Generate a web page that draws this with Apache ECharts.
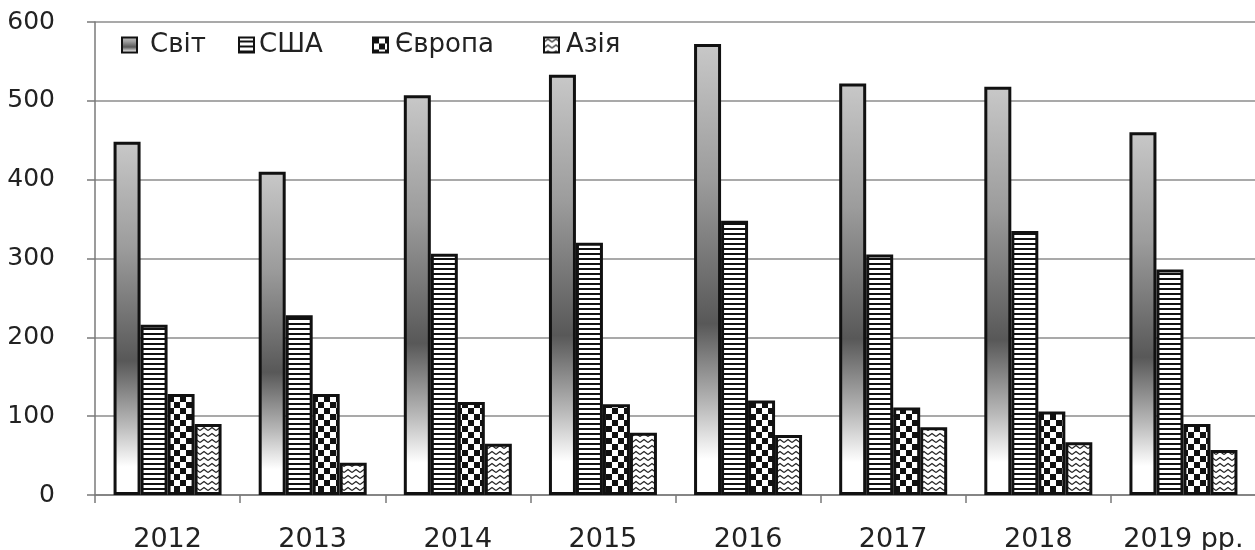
<!DOCTYPE html>
<html>
<head>
<meta charset="utf-8">
<script src="https://cdn.jsdelivr.net/npm/echarts@6/dist/echarts.min.js"></script>
<style>
  html, body { margin: 0; padding: 0; background: #fff; }
  #chart { width: 1255px; height: 550px; }
</style>
</head>
<body>
<div id="chart"></div>
<script>
// Years on the category axis
const categories = ['2012', '2013', '2014', '2015', '2016', '2017', '2018', '2019 рр.'];
// Series names
const seriesNames = ['Світ', 'США', 'Європа', 'Азія'];
// Values per year
const svit = [448, 410, 507, 533, 572, 522, 518, 460];
const usa = [216, 228, 306, 320, 348, 305, 335, 286];
const europe = [128, 128, 118, 115, 120, 111, 106, 90];
const asia = [90, 41, 65, 79, 76, 86, 67, 57];
// Value axis range
const yMin = 0, yMax = 600, yStep = 100;

// --- fill patterns drawn on small canvases ---
function makeCanvas(w, h, draw) {
  const c = document.createElement('canvas');
  c.width = w; c.height = h;
  const ctx = c.getContext('2d');
  ctx.fillStyle = '#fff';
  ctx.fillRect(0, 0, w, h);
  draw(ctx);
  return c;
}
// horizontal stripes
const stripes = makeCanvas(8, 5, ctx => {
  ctx.fillStyle = '#111';
  ctx.fillRect(0, 3, 8, 2);
});
// checkerboard
const checker = makeCanvas(12, 12, ctx => {
  ctx.fillStyle = '#111';
  ctx.fillRect(0, 0, 6, 6);
  ctx.fillRect(6, 6, 6, 6);
});
// zigzag waves
const zigzag = makeCanvas(8, 6, ctx => {
  ctx.strokeStyle = '#222';
  ctx.lineWidth = 1.2;
  ctx.beginPath();
  ctx.moveTo(0, 4.5); ctx.lineTo(4, 1.5); ctx.lineTo(8, 4.5);
  ctx.stroke();
});

const gradient = new echarts.graphic.LinearGradient(0, 0, 0, 1, [
  { offset: 0, color: '#c8c8c8' },
  { offset: 0.3, color: '#9c9c9c' },
  { offset: 0.62, color: '#585858' },
  { offset: 0.8, color: '#b8b8b8' },
  { offset: 0.92, color: '#ffffff' },
  { offset: 1, color: '#ffffff' }
]);

const fills = [gradient, { image: stripes, repeat: 'repeat' }, { image: checker, repeat: 'repeat' }, { image: zigzag, repeat: 'repeat' }];
const values = [svit, usa, europe, asia];

const font = 'DejaVu Sans';
const legendLeft = [121, 238, 372, 543];
const legendTextPad = [8, 0, 2, 2];

const chart = echarts.init(document.getElementById('chart'), null, { renderer: 'canvas' });

chart.setOption({
  animation: false,
  backgroundColor: '#fff',
  grid: { left: 95, top: 22, width: 1161, bottom: 55, containLabel: false, outerBoundsMode: 'none' },
  legend: seriesNames.map((name, i) => ({
    data: [{ name: name, icon: 'rect' }],
    left: legendLeft[i],
    top: 32,
    padding: 0,
    itemWidth: 15,
    itemHeight: 15,
    itemStyle: { borderColor: '#111', borderWidth: 2 },
    textStyle: { fontFamily: font, fontSize: 26, color: '#222', padding: [0, 0, 0, legendTextPad[i]] },
    selectedMode: false
  })),
  xAxis: {
    type: 'category',
    data: categories,
    axisLine: { lineStyle: { color: '#7a7a7a', width: 1.5 } },
    axisTick: { show: true, length: 8, interval: 0, lineStyle: { color: '#7a7a7a', width: 1.5 } },
    axisLabel: { interval: 0, fontFamily: font, fontSize: 27, color: '#222', margin: 31 }
  },
  yAxis: {
    type: 'value',
    min: yMin, max: yMax, interval: yStep,
    axisLine: { show: true, lineStyle: { color: '#7a7a7a', width: 1.5 } },
    axisTick: { show: true, length: 8, lineStyle: { color: '#7a7a7a', width: 1.5 } },
    axisLabel: { fontFamily: font, fontSize: 25, color: '#222', margin: 40 },
    splitLine: { show: true, lineStyle: { color: '#8c8c8c', width: 1.5 } }
  },
  series: seriesNames.map((name, i) => ({
    name: name,
    type: 'bar',
    data: values[i],
    barWidth: 27,
    barGap: '0%',
    itemStyle: { color: fills[i], borderColor: '#111', borderWidth: 3 }
  }))
});
</script>
</body>
</html>
